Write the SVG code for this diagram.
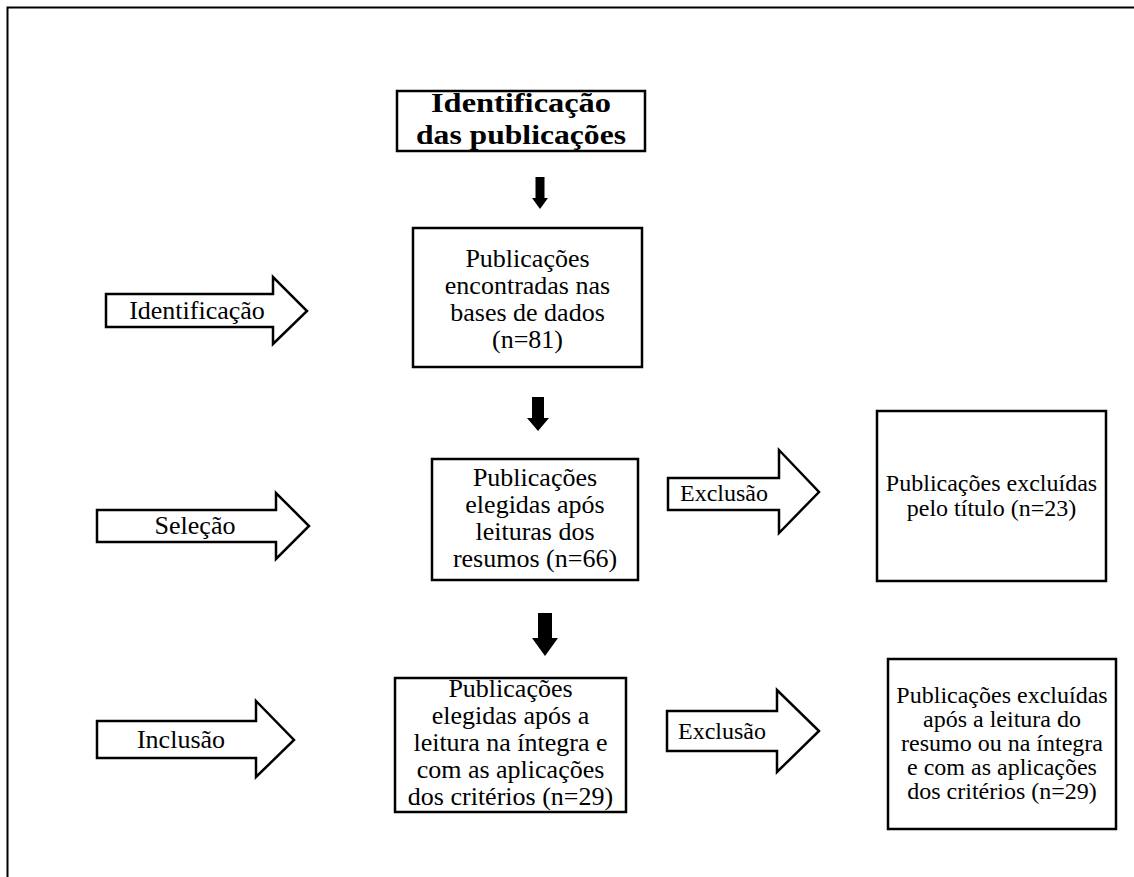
<svg xmlns="http://www.w3.org/2000/svg" width="1134" height="877" viewBox="0 0 1134 877">
<style>
.box{fill:#fff;stroke:#000;stroke-width:2.5}
.blk{fill:#000;stroke:none}
.big{fill:#fff;stroke:#000;stroke-width:2.5;stroke-linejoin:miter}
text{font-family:"Liberation Serif","Times New Roman",serif;fill:#000;text-anchor:middle}
.t26{font-size:26px}
.t25{font-size:26px}
.t24{font-size:24px}
.ttl{font-size:28px;font-weight:bold}
</style>
<rect width="1134" height="877" fill="#fff"/>
<path d="M7.5 877 V7.5 H1134" fill="none" stroke="#000" stroke-width="2"/>

<g id="title">
<rect class="box" x="397" y="91" width="248" height="60"/>
<text class="ttl" x="521" y="112" textLength="180" lengthAdjust="spacingAndGlyphs">Identificação</text>
<text class="ttl" x="521" y="144" textLength="210" lengthAdjust="spacingAndGlyphs">das publicações</text>
</g>

<g id="box1">
<rect class="box" x="413" y="228" width="229" height="139"/>
<text class="t25" x="527.5" y="267">Publicações</text>
<text class="t25" x="527.5" y="294">encontradas nas</text>
<text class="t25" x="527.5" y="321">bases de dados</text>
<text class="t25" x="527.5" y="348">(n=81)</text>
</g>

<g id="box2">
<rect class="box" x="432" y="459" width="206" height="121"/>
<text class="t25" x="535" y="486">Publicações</text>
<text class="t25" x="535" y="513">elegidas após</text>
<text class="t25" x="535" y="540">leituras dos</text>
<text class="t25" x="535" y="567">resumos (n=66)</text>
</g>

<g id="box3">
<rect class="box" x="395" y="678" width="231" height="134"/>
<text class="t25" x="510.5" y="697">Publicações</text>
<text class="t25" x="510.5" y="724">elegidas após a</text>
<text class="t25" x="510.5" y="751">leitura na íntegra e</text>
<text class="t25" x="510.5" y="778">com as aplicações</text>
<text class="t25" x="510.5" y="805">dos critérios (n=29)</text>
</g>

<g id="excl1">
<rect class="box" x="877" y="411" width="229" height="170"/>
<text class="t24" x="991.5" y="491">Publicações excluídas</text>
<text class="t24" x="991.5" y="516">pelo título (n=23)</text>
</g>

<g id="excl2">
<rect class="box" x="888" y="659" width="228" height="170"/>
<text class="t24" x="1002" y="703">Publicações excluídas</text>
<text class="t24" x="1002" y="727">após a leitura do</text>
<text class="t24" x="1002" y="751">resumo ou na íntegra</text>
<text class="t24" x="1002" y="775">e com as aplicações</text>
<text class="t24" x="1002" y="799">dos critérios (n=29)</text>
</g>

<g id="lbl-identificacao">
<polygon class="big" points="106,294 273,294 273,277 307,311 273,344 273,327 106,327"/>
<text class="t26" x="197" y="319">Identificação</text>
</g>

<g id="lbl-selecao">
<polygon class="big" points="97,510 276,510 276,493 309,526 276,559 276,542 97,542"/>
<text class="t26" x="195" y="534">Seleção</text>
</g>

<g id="lbl-inclusao">
<polygon class="big" points="97,721 256,721 256,701 294,740 256,777 256,758 97,758"/>
<text class="t26" x="181" y="748">Inclusão</text>
</g>

<g id="lbl-exclusao1">
<polygon class="big" points="668,478 779,478 779,450 819,492 779,533 779,510 668,510"/>
<text class="t24" x="724" y="501">Exclusão</text>
</g>

<g id="lbl-exclusao2">
<polygon class="big" points="667,711 777,711 777,690 819,731 777,772 777,751 667,751"/>
<text class="t24" x="722" y="739">Exclusão</text>
</g>

<g id="connectors">
<polygon class="blk" points="535.5,177 544.5,177 544.5,198 548,198 540,209 532,198 535.5,198"/>
<polygon class="blk" points="532,397 544,397 544,418 549,418 538,431 527,418 532,418"/>
<polygon class="blk" points="538,613 552,613 552,638 558,638 545,656 532,638 538,638"/>
</g>
</svg>
